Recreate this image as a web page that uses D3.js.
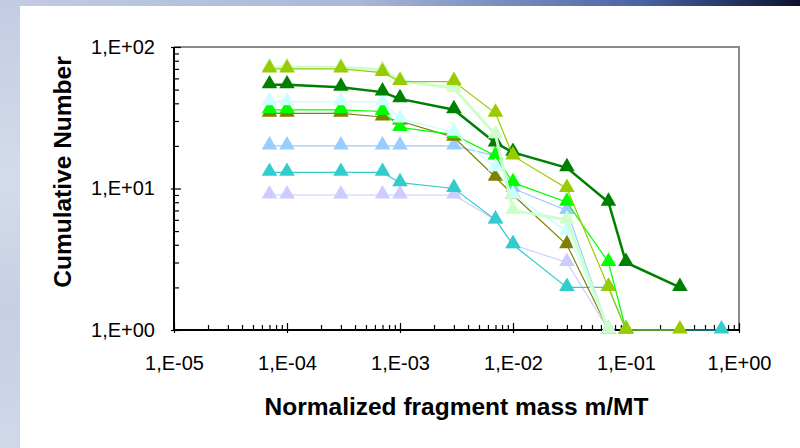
<!DOCTYPE html>
<html>
<head>
<meta charset="utf-8">
<script src="https://cdn.jsdelivr.net/npm/d3@7"></script>
<style>
  body { margin: 0; background: #fff; }
  svg { display: block; font-family: "Liberation Sans", Arial, sans-serif; }
</style>
</head>
<body>
<div id="chart"></div>
<script>
// x positions (normalized fragment mass) shared by all series
const masses = [7e-5, 1e-4, 3e-4, 7e-4, 1e-3, 3e-3, 7e-3, 1e-2, 3e-2, 7e-2, 1e-1, 3e-1, 7e-1];

// cumulative numbers per series (null = no point)
const seriesYellowGreen = [70, 70, 70, 66, 57, 57, 34, 17, 10, 2, 1, 1, null];
const seriesPaleGreen   = [72, 72, 72, 69, 58, 51, 24, 7, 6, 1, null, null, null];
const seriesDarkGreen   = [54, 54, 52, 48, 43, 36, 21, 18, 14, 8, 3, 2, null];
const seriesPaleCyan    = [41, 41, 41, 41, 31, 25, 14, 9, 5, 1, null, null, null];
const seriesGreen       = [36, 36, 36, 35, 27, 24, 17, 11, 8, 3, 1, null, null];
const seriesOlive       = [34, 34, 34, 32, 30, 23, 12, 9, 4, 1, null, null, null];
const seriesLightBlue   = [20, 20, 20, 20, 20, 20, 17, 10, 7, 1, null, null, null];
const seriesTeal        = [13, 13, 13, 13, 11, 10, 6, 4, 2, 2, 1, null, 1];
const seriesLavender    = [9, 9, 9, 9, 9, 9, 6, 4, 3, 1, null, null, null];

const xTicks = [1e-5, 1e-4, 1e-3, 1e-2, 1e-1, 1];
const xTickLabels = ["1,E-05", "1,E-04", "1,E-03", "1,E-02", "1,E-01", "1,E+00"];
const yTicks = [1, 10, 100];
const yTickLabels = ["1,E+00", "1,E+01", "1,E+02"];

// drawing order: first drawn sits at the bottom
const series = [
    { values: seriesLavender,    color: "#CCCCFF", width: 1.2 },
    { values: seriesTeal,        color: "#33CCCC", width: 1.2 },
    { values: seriesLightBlue,   color: "#99CCFF", width: 1.2 },
    { values: seriesOlive,       color: "#808000", width: 1.2 },
    { values: seriesGreen,       color: "#00FF00", width: 1.2 },
    { values: seriesPaleCyan,    color: "#CCFFFF", width: 1.5 },
    { values: seriesDarkGreen,   color: "#008000", width: 2.5 },
    { values: seriesPaleGreen,   color: "#CCFFCC", width: 3 },
    { values: seriesYellowGreen, color: "#99CC00", width: 1.2 }
];

const W = 800, H = 448;
const svg = d3.select("#chart").append("svg")
    .attr("width", W).attr("height", H);

// slide background
const defs = svg.append("defs");
const topGrad = defs.append("linearGradient").attr("id", "topGrad");
topGrad.append("stop").attr("offset", "0%").attr("stop-color", "#c3cce2");
topGrad.append("stop").attr("offset", "45%").attr("stop-color", "#a9b7d8");
topGrad.append("stop").attr("offset", "80%").attr("stop-color", "#4a64a4");
topGrad.append("stop").attr("offset", "100%").attr("stop-color", "#0b1230");
const leftGrad = defs.append("linearGradient").attr("id", "leftGrad")
    .attr("x1", 0).attr("y1", 0).attr("x2", 0).attr("y2", 1);
leftGrad.append("stop").attr("offset", "0%").attr("stop-color", "#c3cce2");
leftGrad.append("stop").attr("offset", "40%").attr("stop-color", "#d4dbeb");
leftGrad.append("stop").attr("offset", "70%").attr("stop-color", "#c6cfe3");
leftGrad.append("stop").attr("offset", "100%").attr("stop-color", "#d0d8ea");

svg.append("rect").attr("width", W).attr("height", H).attr("fill", "url(#leftGrad)");
svg.append("rect").attr("width", W).attr("height", 6).attr("fill", "url(#topGrad)");
svg.append("rect").attr("x", 20).attr("y", 6).attr("width", W - 20).attr("height", H - 6).attr("fill", "#fff");

const plot = { left: 174, right: 739, top: 47, bottom: 330 };

const x = d3.scaleLog().domain([1e-5, 1]).range([plot.left, plot.right]);
const y = d3.scaleLog().domain([1, 100]).range([plot.bottom, plot.top]);

// plot area border (top + right grey)
svg.append("path")
    .attr("d", `M${plot.left},${plot.top}H${plot.right}V${plot.bottom}`)
    .attr("fill", "none").attr("stroke", "#8c8c8c").attr("stroke-width", 2);

// minor tick values
const xMinor = [], yMinor = [];
for (let e = -5; e < 0; e++) for (let k = 2; k <= 9; k++) xMinor.push(k * Math.pow(10, e));
for (let e = 0; e < 2; e++) for (let k = 2; k <= 9; k++) yMinor.push(k * Math.pow(10, e));

function styleAxis(g) {
    g.select(".domain").remove();
    g.selectAll(".tick line").attr("stroke", "#000").attr("stroke-width", 1.2);
}

// x axis
svg.append("g").attr("transform", `translate(0,${plot.bottom})`)
    .call(d3.axisBottom(x).tickValues(xMinor).tickSize(-5).tickFormat(""))
    .call(styleAxis);
svg.append("g").attr("transform", `translate(0,${plot.bottom})`)
    .call(d3.axisBottom(x).tickValues(xTicks).tickSize(-7).tickFormat(""))
    .call(styleAxis);
const xAx = svg.append("g").attr("transform", `translate(0,${plot.bottom})`)
    .call(d3.axisBottom(x).tickValues(xTicks).tickSize(3).tickPadding(23)
        .tickFormat((d, i) => xTickLabels[i]))
    .call(styleAxis);
xAx.selectAll("text").attr("font-size", 20).attr("fill", "#000")
    .attr("font-family", "Liberation Sans, Arial, sans-serif");

// y axis
svg.append("g").attr("transform", `translate(${plot.left},0)`)
    .call(d3.axisLeft(y).tickValues(yMinor).tickSize(-5).tickFormat(""))
    .call(styleAxis);
svg.append("g").attr("transform", `translate(${plot.left},0)`)
    .call(d3.axisLeft(y).tickValues(yTicks).tickSize(-7).tickFormat(""))
    .call(styleAxis);
const yAx = svg.append("g").attr("transform", `translate(${plot.left},0)`)
    .call(d3.axisLeft(y).tickValues(yTicks).tickSize(3).tickPadding(16)
        .tickFormat((d, i) => yTickLabels[i]))
    .call(styleAxis);
yAx.selectAll("text").attr("font-size", 20).attr("fill", "#000")
    .attr("font-family", "Liberation Sans, Arial, sans-serif");

// axis lines
svg.append("path")
    .attr("d", `M${plot.left},${plot.top}V${plot.bottom}H${plot.right}`)
    .attr("fill", "none").attr("stroke", "#000").attr("stroke-width", 2);

// series
const line = d3.line()
    .x(d => x(d.m))
    .y(d => y(d.n));
const tri = d3.symbol(d3.symbolTriangle, 105);

series.forEach(s => {
    const pts = masses.map((m, i) => ({ m: m, n: s.values[i] })).filter(d => d.n != null);
    svg.append("path")
        .datum(pts)
        .attr("d", line)
        .attr("fill", "none")
        .attr("stroke", s.color)
        .attr("stroke-width", s.width);
    svg.append("g").selectAll("path")
        .data(pts)
        .enter().append("path")
        .attr("d", tri)
        .attr("transform", d => `translate(${x(d.m)},${y(d.n) - 1})`)
        .attr("fill", s.color);
});

// axis titles
svg.append("text")
    .attr("x", (plot.left + plot.right) / 2)
    .attr("y", 415)
    .attr("text-anchor", "middle")
    .attr("font-size", 24.5).attr("font-weight", "bold")
    .text("Normalized fragment mass m/MT");

svg.append("text")
    .attr("transform", "translate(71,172) rotate(-90)")
    .attr("text-anchor", "middle")
    .attr("font-size", 24.5).attr("font-weight", "bold")
    .text("Cumulative Number");
</script>
</body>
</html>
